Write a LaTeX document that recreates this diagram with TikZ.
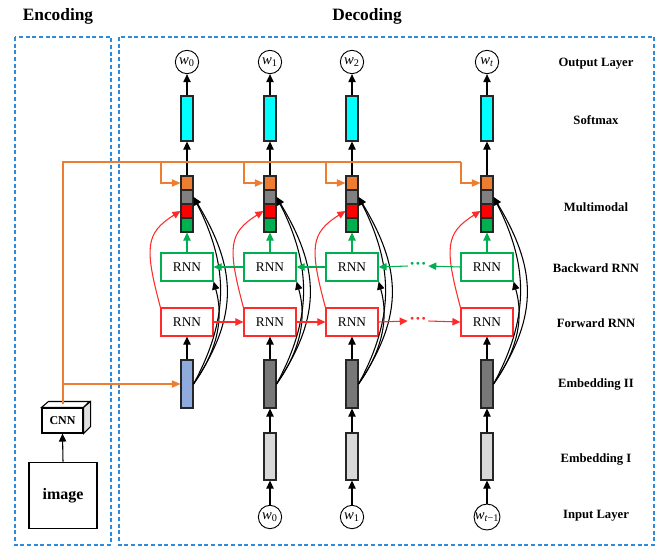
\documentclass[tikz,border=0pt]{standalone}
\usepackage{fontspec}
\setmainfont{Liberation Serif}
\usetikzlibrary{arrows.meta}
\definecolor{cOrange}{HTML}{ED7D31}
\definecolor{cGray}{HTML}{808080}
\definecolor{cRed}{HTML}{FF0000}
\definecolor{cGreen}{HTML}{00B050}
\definecolor{cCyan}{HTML}{00FFFF}
\definecolor{cBlue}{HTML}{8FAADC}
\definecolor{cDark}{HTML}{787878}
\definecolor{cLight}{HTML}{D9D9D9}
\definecolor{cDash}{HTML}{2E8BD8}
\definecolor{cRline}{HTML}{FF2A2A}
\begin{document}
\begin{tikzpicture}[x=0.75pt,y=-0.75pt,
  font=\fontsize{10}{12}\selectfont,
  bar/.style={draw=black!85,line width=0.8pt,minimum width=9pt,inner sep=0pt},
  cellbox/.style={bar,minimum height=10.5pt},
  rnnbox/.style={draw,line width=0.9pt,minimum width=39pt,minimum height=21pt,inner sep=0pt,fill=white},
  wcirc/.style={circle,draw,line width=0.7pt,minimum size=17.5pt,inner sep=0pt,fill=white,font=\fontsize{11}{12}\selectfont},
  arr/.style={-{Triangle[length=6pt,width=5.5pt]},line width=0.8pt},
  garr/.style={arr,draw=cGreen},
  rarr/.style={arr,draw=cRline},
  oline/.style={draw=cOrange,line width=0.8pt},
  oarr/.style={-{Triangle[length=6.5pt,width=5.5pt]},draw=cOrange,line width=0.8pt},
  dbox/.style={draw=cDash,line width=0.8pt,dash pattern=on 3pt off 2pt},
  rowlab/.style={font=\bfseries\fontsize{9.5}{11}\selectfont},
  title/.style={font=\bfseries\fontsize{13}{15}\selectfont},
  dots/.style={font=\bfseries\fontsize{13}{13}\selectfont,inner sep=1pt}
]
\useasboundingbox (0,0) rectangle (664,547);

% frames and titles
\draw[dbox] (15,37) rectangle (111,545);
\draw[dbox] (119,37) rectangle (654,545);
\node[title] (tenc) at (58,16) {Encoding};
\node[title] (tdec) at (367,16) {Decoding};

% row labels
\node[rowlab] (l1) at (596,64) {Output Layer};
\node[rowlab] (l2) at (596,120) {Softmax};
\node[rowlab] (l3) at (596,207) {Multimodal};
\node[rowlab] (l4) at (596,268) {Backward RNN};
\node[rowlab] (l5) at (596,323) {Forward RNN};
\node[rowlab] (l6) at (596,384) {Embedding II};
\node[rowlab] (l7) at (596,459) {Embedding I};
\node[rowlab] (l8) at (596,516) {Input Layer};

% decoding columns
\foreach \i/\x/\ow in {0/187/{\textup{0}},1/270/{\textup{1}},2/352/{\textup{2}},3/487/{\textit{t}}}{
  \node[wcirc] (o\i) at (\x,62) {\textit{w}\textsubscript{\ow}};
  \node[bar,fill=cCyan,minimum height=33.75pt] (s\i) at (\x,118.5) {};
  \node[cellbox,fill=cOrange] (mo\i) at (\x,183) {};
  \node[cellbox,fill=cGray] (mg\i) at (\x,197) {};
  \node[cellbox,fill=cRed] (mr\i) at (\x,211) {};
  \node[cellbox,fill=cGreen] (mn\i) at (\x,225) {};
  \node[rnnbox,draw=cGreen] (b\i) at (\x,267) {RNN};
  \node[rnnbox,draw=cRline] (f\i) at (\x,322) {RNN};
  \draw[arr] (mo\i.north) -- (s\i.south);
  \draw[arr] (s\i.north) -- (o\i.south);
  \draw[garr] (b\i.north) -- (mn\i.south);
}
\node[bar,fill=cBlue,minimum height=36pt] (e0) at (187,384) {};
\foreach \i/\x/\il in {1/270/{\textup{0}},2/352/{\textup{1}},3/487/{\textit{t}\textup{−1}}}{
  \node[bar,fill=cDark,minimum height=36pt] (e\i) at (\x,384) {};
  \node[bar,fill=cLight,minimum height=35.25pt] (ei\i) at (\x,456.5) {};
  \node[wcirc] (in\i) at (\x,517) {\textit{w}\textsubscript{\il}};
  \draw[arr] (in\i.north) -- (ei\i.south);
  \draw[arr] (ei\i.north) -- (e\i.south);
}
\foreach \i in {0,1,2,3}{
  \draw[arr] (e\i.north) -- (f\i.south);
  % red curves forward RNN -> multimodal
  \draw[rarr] (f\i.north west) .. controls +(-16,-60) and +(-35,22) .. (mr\i.west);
  % black curves embedding II -> backward RNN / multimodal
  \draw[arr] (e\i.east) .. controls +(25,-35) and +(10,35) .. (b\i.south east);
  \draw[arr] (e\i.east) .. controls +(38,-70) and +(33,65) .. (mg\i.east);
  \draw[arr] (e\i.east) .. controls +(47,-70) and +(42,70) .. (mg\i.east);
}

% recurrent connections
\node[dots,text=cGreen] (gdots) at (418,266) {···};
\node[dots,text=cRline] (rdots) at (418,321) {···};
\draw[garr] (b1.west) -- (b0.east);
\draw[garr] (b2.west) -- (b1.east);
\draw[garr] (b3.west) -- (gdots.east);
\draw[garr] (gdots.west) -- (b2.east);
\draw[rarr] (f0.east) -- (f1.west);
\draw[rarr] (f1.east) -- (f2.west);
\draw[rarr] (f2.east) -- (rdots.west);
\draw[rarr] (rdots.east) -- (f3.west);

% encoding
\node[draw,line width=0.8pt,minimum width=51pt,minimum height=50pt,inner sep=0pt,
      font=\bfseries\fontsize{12}{14}\selectfont] (img) at (63,495.5) {image};
\node[draw,line width=0.8pt,minimum width=30.75pt,minimum height=18.75pt,inner sep=0pt,
      font=\bfseries\fontsize{9}{11}\selectfont,fill=white] (cnn) at (62.5,420.5) {CNN};
\draw[line width=0.8pt,fill=white] (cnn.north west) -- ++(7,-6) -- ++(41,0) -- (cnn.north east) -- cycle;
\draw[line width=0.8pt,fill=black!12] (cnn.north east) -- ++(7,-6) -- ++(0,25) -- (cnn.south east) -- cycle;
\draw[arr] (img.north) -- (cnn.south);

% orange image-feature connections
\coordinate (cnntop) at (63,404);
\coordinate (oc) at (63,162);
\coordinate (oj) at (63,384);
\coordinate (ob3) at (461,162);
\draw[oline] (cnntop) -- (oc) -- (ob3);
\foreach \i/\x in {0/161,1/244,2/326,3/461}{
  \coordinate (ob\i) at (\x,162);
  \draw[oarr] (ob\i) |- (mo\i.west);
}
\draw[oarr] (oj) -- (e0.west);
\end{tikzpicture}
\end{document}
